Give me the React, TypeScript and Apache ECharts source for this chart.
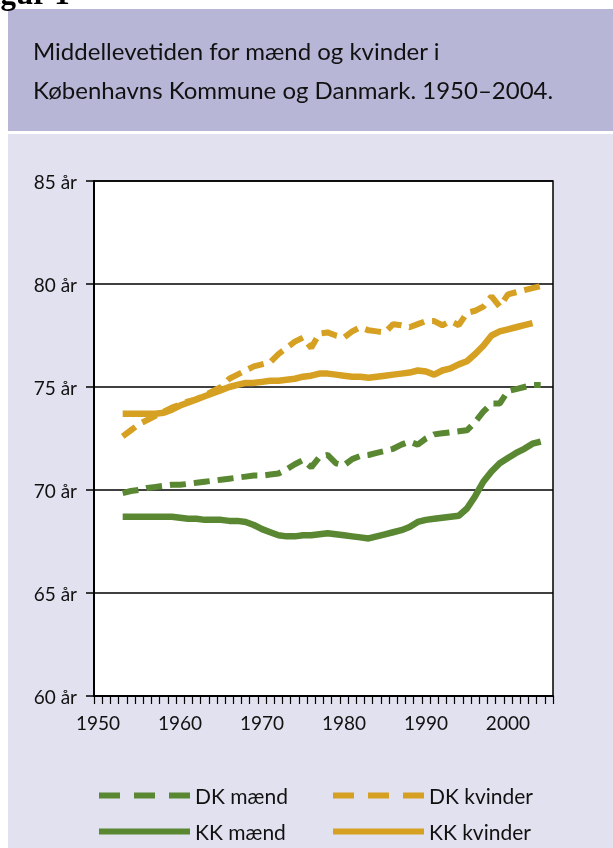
import React, { useEffect, useRef } from "react";
import * as echarts from "echarts";

const firstYear = 1950;
const lastYear = 2005;
const years: string[] = Array.from({ length: lastYear - firstYear + 1 }, (_, i) => String(firstYear + i));

const seriesStart = 1953;

const dkMaend = [
  69.85, 69.95, 70.0, 70.1, 70.15, 70.2, 70.25, 70.25, 70.3, 70.35,
  70.4, 70.45, 70.5, 70.55, 70.6, 70.65, 70.7, 70.7, 70.75, 70.8,
  71.0, 71.25, 71.45, 71.1, 71.6, 71.7, 71.3, 71.2, 71.5, 71.65,
  71.7, 71.8, 71.9, 72.0, 72.2, 72.35, 72.2, 72.5, 72.7, 72.75,
  72.8, 72.85, 72.9, 73.3, 73.8, 74.2, 74.2, 74.8, 74.9, 75.0,
  75.1, 75.1,
];

const dkKvinder = [
  72.6, 72.9, 73.2, 73.4, 73.6, 73.8, 74.0, 74.15, 74.3, 74.4,
  74.6, 74.8, 75.0, 75.4, 75.6, 75.8, 76.0, 76.1, 76.2, 76.6,
  76.9, 77.2, 77.4, 76.9, 77.6, 77.65, 77.5, 77.4, 77.7, 77.9,
  77.75, 77.7, 77.65, 78.05, 78.0, 77.9, 78.05, 78.2, 78.2, 78.0,
  78.2, 78.0, 78.6, 78.7, 78.9, 79.4, 78.9, 79.5, 79.6, 79.7,
  79.8, 79.9,
];

const kkMaend = [
  68.7, 68.7, 68.7, 68.7, 68.7, 68.7, 68.7, 68.65, 68.6, 68.6,
  68.55, 68.55, 68.55, 68.5, 68.5, 68.45, 68.3, 68.1, 67.95, 67.8,
  67.75, 67.75, 67.8, 67.8, 67.85, 67.9, 67.85, 67.8, 67.75, 67.7,
  67.65, 67.75, 67.85, 67.95, 68.05, 68.2, 68.45, 68.55, 68.6, 68.65,
  68.7, 68.75, 69.1, 69.7, 70.4, 70.9, 71.3, 71.55, 71.8, 72.0,
  72.25, 72.35,
];

const kkKvinder = [
  73.7, 73.7, 73.7, 73.7, 73.7, 73.75, 73.9, 74.1, 74.25, 74.4,
  74.55, 74.7, 74.85, 75.0, 75.1, 75.2, 75.2, 75.25, 75.3, 75.3,
  75.35, 75.4, 75.5, 75.55, 75.65, 75.65, 75.6, 75.55, 75.5, 75.5,
  75.45, 75.5, 75.55, 75.6, 75.65, 75.7, 75.8, 75.75, 75.6, 75.8,
  75.9, 76.1, 76.25, 76.6, 77.0, 77.5, 77.7, 77.8, 77.9, 78.0,
  78.1,
];

const yTicks = { min: 60, max: 85, step: 5 };

const titleLines = [
  "Middellevetiden for mænd og kvinder i",
  "Københavns Kommune og Danmark. 1950–2004.",
];

const GREEN = "#5a8732";
const GOLD = "#d6a023";
const FONT = "Lato, 'DejaVu Sans', sans-serif";

const toData = (vals: number[]) => vals.map((v, i) => [String(seriesStart + i), v]);

export default function App() {
  const ref = useRef<HTMLDivElement>(null);
  useEffect(() => {
    if (!ref.current) return;
    const chart = echarts.init(ref.current, undefined, { renderer: "svg" });
    const dash = [16, 8];
    const legendBase = (name: string, left: number, top: number, isDashed: boolean) => ({
      data: [name],
      left,
      top,
      itemWidth: 91,
      itemHeight: 14,
      selectedMode: false,
      padding: 0,
      textStyle: { fontSize: 21, color: "#111", fontFamily: FONT },
      itemStyle: { opacity: 0 },
      lineStyle: isDashed ? { type: [21, 14], width: 6 } : { width: 6 },
    });
    chart.setOption({
      animation: false,
      textStyle: { fontFamily: FONT },
      graphic: [
        { type: "rect", z: -10, silent: true, shape: { x: 8, y: 9, width: 605, height: 122 }, style: { fill: "#b8b6d7" } },
        { type: "rect", z: -10, silent: true, shape: { x: 8, y: 134, width: 605, height: 714 }, style: { fill: "#e1e1ef" } },
        { type: "text", x: -27, y: -7, silent: true, style: { text: "Figur 1", font: "bold 31px 'Liberation Serif', serif", fill: "#000", verticalAlign: "middle" } },
        { type: "text", x: 33, y: 50, silent: true, style: { text: titleLines[0], font: `24px ${FONT}`, fill: "#111", verticalAlign: "middle" } },
        { type: "text", x: 33, y: 89, silent: true, style: { text: titleLines[1], font: `24px ${FONT}`, fill: "#111", verticalAlign: "middle" } },
      ],
      grid: {
        left: 94,
        top: 181,
        width: 459,
        height: 515,
        show: true,
        backgroundColor: "#ffffff",
        borderColor: "#000",
        borderWidth: 1.5,
      },
      xAxis: {
        type: "category",
        data: years,
        boundaryGap: true,
        axisLine: { lineStyle: { color: "#000", width: 2 } },
        axisTick: { show: true, interval: 0, length: 8, lineStyle: { color: "#000", width: 1.2 } },
        axisLabel: {
          interval: (i: number) => i % 10 === 0,
          margin: 17,
          fontSize: 19,
          color: "#111",
          fontFamily: FONT,
        },
        splitLine: { show: false },
      },
      yAxis: {
        type: "value",
        min: yTicks.min,
        max: yTicks.max,
        interval: yTicks.step,
        axisLine: { show: true, lineStyle: { color: "#000", width: 2 } },
        axisTick: { show: true, length: 8, lineStyle: { color: "#000", width: 1.5 } },
        axisLabel: { formatter: "{value} år", margin: 17, fontSize: 19, color: "#111", fontFamily: FONT },
        splitLine: { show: true, lineStyle: { color: "#000", width: 1.5 } },
      },
      legend: [
        legendBase("DK mænd", 96, 785, true),
        legendBase("DK kvinder", 330, 785, true),
        legendBase("KK mænd", 96, 821, false),
        legendBase("KK kvinder", 330, 821, false),
      ],
      series: [
        { name: "DK mænd", type: "line", data: toData(dkMaend), symbol: "none", color: GREEN, lineStyle: { color: GREEN, width: 6, type: dash } },
        { name: "DK kvinder", type: "line", data: toData(dkKvinder), symbol: "none", color: GOLD, lineStyle: { color: GOLD, width: 6, type: dash } },
        { name: "KK mænd", type: "line", data: toData(kkMaend), symbol: "none", color: GREEN, lineStyle: { color: GREEN, width: 6.5 } },
        { name: "KK kvinder", type: "line", data: toData(kkKvinder), symbol: "none", color: GOLD, lineStyle: { color: GOLD, width: 6.5 } },
      ],
    });
    return () => chart.dispose();
  }, []);
  return <div ref={ref} style={{ position: "fixed", left: 0, top: 0, width: 613, height: 848 }} />;
}
